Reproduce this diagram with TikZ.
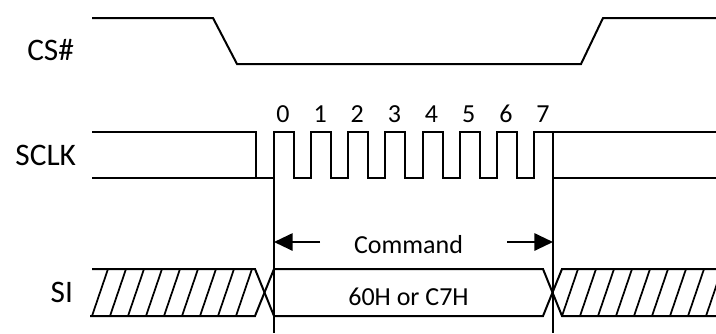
\documentclass[tikz,border=0pt]{standalone}
\usepackage{fontspec}
\setmainfont{Carlito}
\usetikzlibrary{arrows.meta}

\begin{document}
\begin{tikzpicture}[x=0.75pt, y=-0.75pt, line width=1.5pt,
    every node/.style={font=\fontsize{19.5}{22}\selectfont, inner sep=0pt},
    sig/.style={anchor=base east, font=\fontsize{23.5}{27}\selectfont},
    hatch/.style={line width=1.3pt},
    dimarrow/.style={-{Triangle[length=14pt, width=13pt]}}]
    \useasboundingbox (0,0) rectangle (716,333);
    \clip (0,0) rectangle (716,333);

    \node[sig] (cs) at (75,60) {CS\#};
    \node[sig] (sclk) at (77,165) {SCLK};
    \node[sig] (si) at (74,302) {SI};

    % CS#
    \draw (92,18) -- (213,18) -- (237,64) -- (581,64) -- (603,18) -- (716,18);

    % SCLK
    \draw (92,132) -- (256,132) -- (256,178);
    \draw (92,178) -- (274,178);
    \draw (274,178) \foreach \i in {0,...,6}{
        -- ++(0,-46) -- ++(20,0) -- ++(0,46) -- ++(17.14,0)
    } -- ++(0,-46) -- ++(19.5,0);
    \draw (553,132) -- (716,132);
    \draw (553,178) -- (716,178);
    \foreach \i in {0,...,7}{
        \pgfmathsetmacro{\bx}{283+37.14*\i}
        \node[anchor=base] (bit\i) at (\bx,122) {\i};
    }

    % markers
    \coordinate (mstart) at (274,132);
    \coordinate (mstartb) at (274,333);
    \coordinate (mend) at (553,132);
    \coordinate (mendb) at (553,333);
    \draw (mstart) -- (mstartb);
    \draw (mend) -- (mendb);

    \node[anchor=base] (cmd) at (408.5,253) {Command};
    \coordinate (ltail) at (320,242);
    \coordinate (lhead) at (274,242);
    \coordinate (rtail) at (507,242);
    \coordinate (rhead) at (553,242);
    \draw[dimarrow] (ltail) -- (lhead);
    \draw[dimarrow] (rtail) -- (rhead);

    % SI
    \draw (92,269) -- (255,269) -- (274,316) -- (543,316) -- (562,269) -- (716,269);
    \draw (90,316) -- (255,316) -- (274,269) -- (543,269) -- (562,316) -- (716,316);
    \foreach \k in {0,...,8}{
        \draw[hatch] (92+18*\k,316) -- ++(16,-47);
        \draw[hatch] (562+18*\k,316) -- ++(16,-47);
    }
    \node[anchor=base] (data) at (408.5,305) {60H or C7H};
\end{tikzpicture}
\end{document}
